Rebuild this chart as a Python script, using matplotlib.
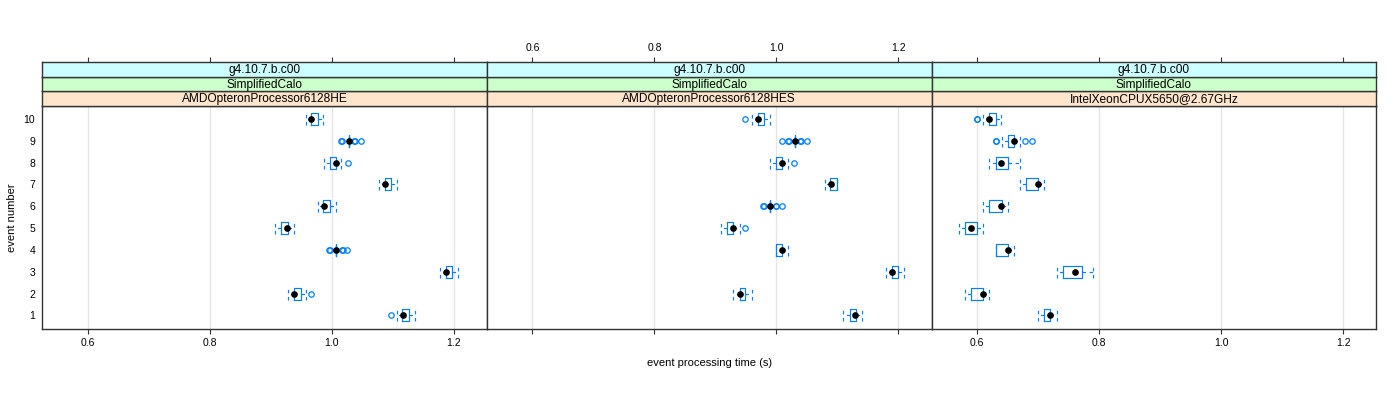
import matplotlib
matplotlib.use("Agg")
import matplotlib.pyplot as plt

plt.rcParams['font.family'] = ['Liberation Sans', 'DejaVu Sans']

events = list(range(1, 11))
panels = ["AMDOpteronProcessor6128HE", "AMDOpteronProcessor6128HES", "IntelXeonCPUX5650@2.67GHz"]
strip_top = "g4.10.7.b.c00"
strip_mid = "SimplifiedCalo"
xticks = [0.6, 0.8, 1.0, 1.2]

# values for events 1..10
p1_med = [1.117, 0.938, 1.187, 1.007, 0.927, 0.987, 1.087, 1.007, 1.028, 0.967]
p1_q1 = [1.116, 0.938, 1.187, 1.007, 0.917, 0.986, 1.087, 0.997, 1.028, 0.966]
p1_q3 = [1.127, 0.949, 1.197, 1.007, 0.928, 0.997, 1.098, 1.007, 1.028, 0.977]
p1_lo = [1.108, 0.928, 1.178, 1.007, 0.907, 0.978, 1.077, 0.987, 1.028, 0.958]
p1_hi = [1.137, 0.958, 1.208, 1.007, 0.938, 1.008, 1.108, 1.016, 1.028, 0.986]
p1_out = [[1.098], [0.967], [], [0.996, 0.997, 1.017, 1.018, 1.026], [], [], [],
          [1.027], [1.016, 1.017, 1.037, 1.038, 1.048], []]

p2_med = [1.129, 0.940, 1.189, 1.009, 0.929, 0.989, 1.090, 1.009, 1.030, 0.970]
p2_q1 = [1.120, 0.940, 1.189, 1.000, 0.919, 0.989, 1.088, 1.000, 1.030, 0.970]
p2_q3 = [1.130, 0.949, 1.199, 1.009, 0.929, 0.989, 1.099, 1.010, 1.030, 0.979]
p2_lo = [1.110, 0.929, 1.179, 1.000, 0.909, 0.989, 1.080, 0.990, 1.030, 0.960]
p2_hi = [1.140, 0.960, 1.209, 1.019, 0.940, 0.989, 1.099, 1.019, 1.030, 0.989]
p2_out = [[], [], [], [], [0.949], [0.978, 0.979, 0.999, 1.000, 1.010], [],
          [1.029], [1.009, 1.019, 1.020, 1.039, 1.040, 1.050], [0.949]]

p3_med = [0.720, 0.610, 0.760, 0.650, 0.590, 0.639, 0.700, 0.639, 0.660, 0.620]
p3_q1 = [0.710, 0.590, 0.740, 0.630, 0.580, 0.619, 0.680, 0.630, 0.650, 0.619]
p3_q3 = [0.720, 0.610, 0.771, 0.650, 0.600, 0.640, 0.700, 0.650, 0.660, 0.630]
p3_lo = [0.700, 0.580, 0.730, 0.630, 0.570, 0.610, 0.670, 0.620, 0.640, 0.610]
p3_hi = [0.730, 0.619, 0.790, 0.660, 0.610, 0.650, 0.710, 0.670, 0.670, 0.639]
p3_out = [[], [], [], [], [], [], [], [], [0.630, 0.630, 0.679, 0.689], [0.600, 0.600]]

data = [
    (p1_med, p1_q1, p1_q3, p1_lo, p1_hi, p1_out),
    (p2_med, p2_q1, p2_q3, p2_lo, p2_hi, p2_out),
    (p3_med, p3_q1, p3_q3, p3_lo, p3_hi, p3_out),
]

BLUE = '#0080ff'
EDGE = '#333333'
XLIM = (0.525, 1.2545)

fig = plt.figure(figsize=(14, 4), dpi=100)

left, right = 42 / 1400, 1376.3 / 1400
pw = (right - left) / 3
pbot = (400 - 328.5) / 400
ptop = (400 - 105.9) / 400
stop = (400 - 62) / 400
sh = (stop - ptop) / 3
strip_cols = ['#ffe5cc', '#ccffcc', '#ccffff']

for i, (name, (med, q1, q3, lo, hi, out)) in enumerate(zip(panels, data)):
    x0 = left + i * pw
    ax = fig.add_axes([x0, pbot, pw, ptop - pbot])
    stats = [dict(med=m, q1=a, q3=b, whislo=l, whishi=h, fliers=f)
             for m, a, b, l, h, f in zip(med, q1, q3, lo, hi, out)]
    ax.bxp(stats, positions=events, orientation='horizontal', widths=0.55,
           capwidths=0.55, manage_ticks=False,
           boxprops=dict(color=BLUE, lw=0.85),
           whiskerprops=dict(color=BLUE, lw=0.85, ls=(0, (3, 3))),
           capprops=dict(color=BLUE, lw=0.85, ls=(0, (3, 3))),
           medianprops=dict(visible=False),
           flierprops=dict(marker='o', mfc='none', mec=BLUE, ms=3.9, mew=0.9, ls='none'))
    ax.plot(med, events, 'o', color='black', ms=3.8, zorder=5)
    ax.set_xlim(*XLIM)
    ax.set_ylim(0.4, 10.6)
    ax.set_xticks(xticks)
    ax.grid(axis='x', color='#e6e6e6', lw=1)
    ax.set_axisbelow(True)
    for s in ax.spines.values():
        s.set_color(EDGE)
        s.set_linewidth(1.0)
    ax.tick_params(axis='x', direction='out', length=3.5, color=EDGE, labelsize=7.5,
                   pad=3, labelbottom=(i != 1))
    if i == 0:
        ax.set_yticks(events)
        ax.set_yticklabels([str(e) for e in events])
        ax.tick_params(axis='y', length=0, labelsize=7.5, pad=5)
    else:
        ax.set_yticks([])

    labels = [name, strip_mid, strip_top]
    for k in range(3):
        sax = fig.add_axes([x0, ptop + k * sh, pw, sh])
        sax.set_facecolor(strip_cols[k])
        sax.set_xlim(*XLIM)
        sax.set_ylim(0, 1)
        sax.set_yticks([])
        for s in sax.spines.values():
            s.set_color(EDGE)
            s.set_linewidth(1.0)
        sax.text(0.5, 0.45, labels[k], transform=sax.transAxes, ha='center', va='center',
                 fontsize=8.6)
        if k == 2:
            sax.set_xticks(xticks)
            sax.xaxis.tick_top()
            sax.tick_params(axis='x', direction='out', length=3.5, color=EDGE,
                            labelsize=7.5, pad=3, labeltop=(i == 1), labelbottom=False,
                            bottom=False)
        else:
            sax.set_xticks([])

fig.text((left + right) / 2, (400 - 362.7) / 400, 'event processing time (s)',
         ha='center', va='center', fontsize=8)
fig.text(12 / 1400, (400 - 217.2) / 400, 'event number', rotation=90,
         ha='center', va='center', fontsize=8)

fig.savefig('out.png', dpi=100)
